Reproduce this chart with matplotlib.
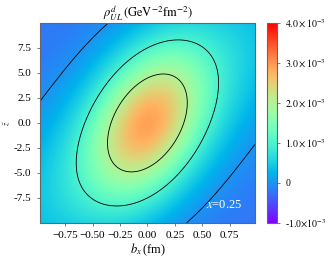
import numpy as np
import matplotlib
matplotlib.use('Agg')
import matplotlib.pyplot as plt

plt.rcParams['font.family'] = ['Liberation Serif', 'DejaVu Serif']
plt.rcParams['mathtext.fontset'] = 'stix'

# values
bx_range = [-0.98, 0.98]          # fm
z_range = [-10.0, 10.0]
peak = 2.9e-3                     # value at the centre
floor = -0.25e-3                  # value far out in the corners
core_amp = 2.2e-3                 # narrow tilted core
core_quad = [1.1, -0.25, 0.526]   # xx, xy, yy weights in (bx, z/10)
core_scale = 3.7
ridge_amp = peak - floor - core_amp   # broad ridge along the diagonal
ridge_width = [0.72, 2.0]         # across / along the diagonal
levels = [0.0, 1e-3, 2e-3]
cbar_ticks = [-1e-3, 0, 1e-3, 2e-3, 3e-3, 4e-3]
cbar_labels = [r'-1.0$\times10^{-3}$', '0', r'$1.0\times10^{-3}$',
               r'$2.0\times10^{-3}$', r'$3.0\times10^{-3}$', r'$4.0\times10^{-3}$']
xticks = [-0.75, -0.5, -0.25, 0, 0.25, 0.5, 0.75]
xlabels = ['\u22120.75', '\u22120.50', '\u22120.25', '0.00', '0.25', '0.50', '0.75']
yticks = [-7.5, -5, -2.5, 0, 2.5, 5, 7.5]
ylabels = ['-7.5', '-5.0', '-2.5', '0.0', '2.5', '5.0', '7.5']

bx = np.linspace(bx_range[0], bx_range[1], 300)
z = np.linspace(z_range[0], z_range[1], 300)
BX, Z = np.meshgrid(bx, z)
Y = Z / 10.0
Q = core_quad[0] * BX**2 + 2 * core_quad[1] * BX * Y + core_quad[2] * Y**2
u = (Y - BX) / np.sqrt(2)
v = (Y + BX) / np.sqrt(2)
rho = (floor + core_amp * np.exp(-core_scale * Q)
       + ridge_amp * np.exp(-(u / ridge_width[0])**2 - (v / ridge_width[1])**2))

fig = plt.figure(figsize=(3.35, 2.58), dpi=100)
ax = fig.add_axes([0.119, 0.136, 0.642, 0.775])
cax = fig.add_axes([0.797, 0.136, 0.03, 0.775])

im = ax.pcolormesh(BX, Z, rho, cmap='rainbow', vmin=-1e-3, vmax=4e-3,
                   shading='gouraud', rasterized=True)
ax.contour(BX, Z, rho, levels=levels, colors='k', linewidths=0.6)
ax.set_xlim(bx_range)
ax.set_ylim(z_range)
ax.set_xticks(xticks)
ax.set_xticklabels(xlabels)
ax.set_yticks(yticks)
ax.set_yticklabels(ylabels)
ax.tick_params(labelsize=8, length=2.5, width=0.6, color='0.4')
for s in ax.spines.values():
    s.set_color('0.4')
ax.set_xlabel(r'$b_x\,$(fm)', fontsize=9, labelpad=1)
ax.set_ylabel(r'$\tilde{z}$', fontsize=6)
ax.yaxis.set_label_coords(-0.13, 0.5)
ax.set_title(r'$\rho^{d}_{UL}\,(\mathrm{GeV}^{-2}\mathrm{fm}^{-2})$', fontsize=9, pad=3)
ax.text(0.70, -8.2, r'$x$=0.25', color='white', fontsize=9, ha='center', va='center')

cb = fig.colorbar(im, cax=cax)
cb.set_ticks(cbar_ticks)
cb.set_ticklabels(cbar_labels)
cb.ax.tick_params(labelsize=7, length=2.5, width=0.6, color='0.4')
cb.outline.set_edgecolor('0.4')

fig.savefig('out.png', dpi=100)
